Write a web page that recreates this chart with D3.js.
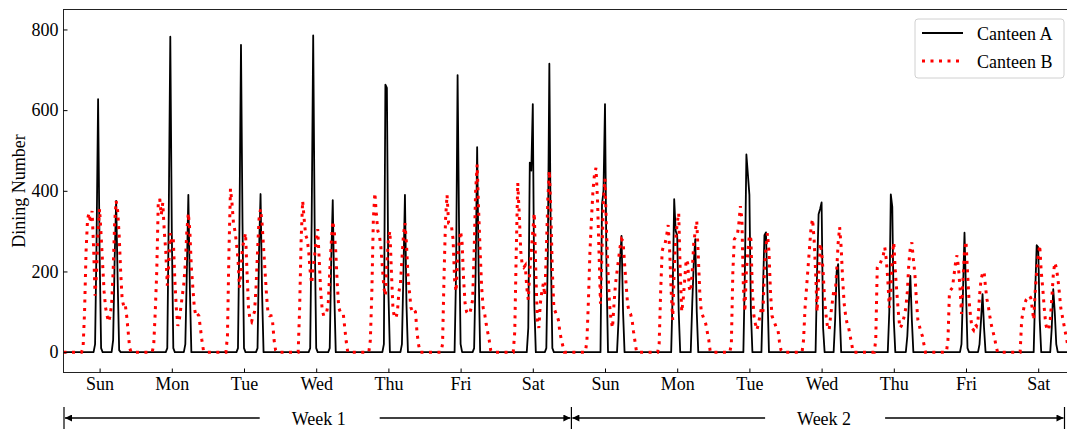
<!DOCTYPE html>
<html>
<head>
<meta charset="utf-8">
<script src="https://cdn.jsdelivr.net/npm/d3@7"></script>
<style>
  body { margin: 0; background: #fff; }
  text { font-family: "Liberation Serif", "Times New Roman", serif; }
</style>
</head>
<body>
<div id="chart"></div>
<script>
// day labels, one per tick
const days = ["Sun", "Mon", "Tue", "Wed", "Thu", "Fri", "Sat",
              "Sun", "Mon", "Tue", "Wed", "Thu", "Fri", "Sat"];
const weeks = ["Week 1", "Week 2"];
const yTicks = [0, 200, 400, 600, 800];

// every daily row holds half-hourly counts from 5:30 to 23:00 (36 values), zero outside
const slotStart = 5.5, slotStep = 0.5;

const canteenA = [
  [0,0,0,0,0,0,0,0,0,0, 20,280,627,250,10, 0,0,0,0,0,0,0, 30,230,375,180,5, 0,0,0,0,0,0,0,0,0],
  [0,0,0,0,0,0,0,0,0,0, 10,350,782,300,10, 0,0,0,0,0,0,0, 20,200,390,160,0, 0,0,0,0,0,0,0,0,0],
  [0,0,0,0,0,0,0,0,0,10, 320,762,320,10,0, 0,0,0,0,0,0,0, 10,250,392,150,0, 0,0,0,0,0,0,0,0,0],
  [0,0,0,0,0,0,0,0,0,10, 330,785,300,10,0, 0,0,0,0,0,0,0, 10,230,377,150,0, 0,0,0,0,0,0,0,0,0],
  [0,0,0,0,0,0,0,0,0,0, 20,663,655,150,0, 0,0,0,0,0,0,0, 20,200,390,120,0, 0,0,0,0,0,0,0,0,0],
  [0,0,0,0,0,0,0,0,0,0, 200,687,300,20,0, 0,0,0,0,0,0,0, 10,200,508,200,0, 0,0,0,0,0,0,0,0,0],
  [0,0,0,0,0,0,0,0,0,0, 60,470,450,615,120, 0,0,0,0,0,0,0, 10,250,715,250,10, 0,0,0,0,0,0,0,0,0],
  [0,0,0,0,0,0,0,0,0,0, 0,366,400,615,200, 0,0,0,0,0,0,0, 80,230,288,100,0, 0,0,0,0,0,0,0,0,0],
  [0,0,0,0,0,0,0,0,0,0, 150,379,300,290,100, 0,0,0,0,0,0,0, 0,120,220,280,100, 0,0,0,0,0,0,0,0,0],
  [0,0,0,0,0,0,0,0,0,0, 200,490,440,390,100, 0,0,0,0,0,0,0, 150,290,297,150,0, 0,0,0,0,0,0,0,0,0],
  [0,0,0,0,0,0,0,0,0,0, 200,342,355,371,60, 0,0,0,0,0,0,0, 80,200,218,100,0, 0,0,0,0,0,0,0,0,0],
  [0,0,0,0,0,0,0,0,0,0, 100,391,360,80,0, 0,0,0,0,0,0,0, 40,120,189,80,0, 0,0,0,0,0,0,0,0,0],
  [0,0,0,0,0,0,0,0,0,0, 20,150,296,150,10, 0,0,0,0,0,0,0, 20,80,144,60,0, 0,0,0,0,0,0,0,0,0],
  [0,0,0,0,0,0,0,0,0,0, 0,150,265,260,80, 0,0,0,0,0,0,0, 60,156,100,20,0, 0,0,0,0,0,0,0,0,0]
];

const canteenB = [
  [0, 0,10,100,250,330,345,320,350,260,140, 200,300,355,290,220,150,110,90,75,90, 120,200,320,375,350,290,200,130,115,120, 90,50,10,0,0],
  [0, 20,100,200,370,380,340,370,300,250,165, 220,295,270,280,180,110,65,80,110,140, 170,220,300,345,300,210,160,110,90,95, 90,60,30,5,0],
  [0, 0,40,250,405,370,320,300,270,230,160, 200,260,275,295,200,110,80,75,90,100, 160,250,330,355,320,260,200,140,95,90, 90,75,30,5,0],
  [0, 0,110,280,375,330,290,280,250,200,170, 210,240,280,305,230,150,105,90,95,100, 120,200,270,325,300,250,170,110,100,100, 95,60,25,0,0],
  [0, 30,150,330,395,340,300,290,260,210,160, 140,220,280,300,200,110,85,85,100,150, 170,230,290,320,270,190,150,110,100,105, 100,50,20,0,0],
  [0, 20,190,330,390,320,320,310,280,180,150, 230,270,300,270,180,120,100,95,95,110, 130,250,400,465,350,250,160,110,95,70, 50,30,5,0,0],
  [0, 50,250,420,340,250,215,210,215,160,130, 200,250,300,345,200,80,60,120,150,170, 140,250,380,450,350,200,110,100,90,80, 50,30,15,0,0],
  [0, 30,130,250,330,400,440,457,380,250,120, 250,380,430,300,200,120,80,60,120,170, 200,230,260,280,275,220,170,120,100,95, 80,50,25,0,0],
  [0, 20,150,250,265,270,290,315,250,150,80, 200,280,320,345,200,100,130,180,230,220, 160,150,200,270,300,325,240,150,100,90, 80,70,50,30,0],
  [0, 20,200,280,285,290,320,362,330,160,100, 200,250,290,280,150,90,70,55,70,90, 110,100,200,260,295,250,150,90,80,70, 60,55,25,5,0],
  [0, 30,110,160,210,260,310,330,280,200,100, 180,270,250,200,130,90,60,55,90,120, 150,140,200,270,310,260,180,120,90,70, 60,40,20,0,0],
  [0, 30,210,220,220,230,240,260,230,180,110, 150,240,272,200,150,100,60,65,75,90, 110,150,220,260,272,230,195,130,80,65, 50,40,20,0,0],
  [0, 30,150,155,160,190,220,240,210,160,95, 180,250,275,200,130,90,60,55,70,65, 80,140,180,195,200,160,130,110,85,65, 50,35,15,0,0],
  [0, 0,80,100,120,130,135,140,135,110,80, 150,200,240,265,200,160,110,70,55,55, 80,130,190,222,210,185,150,110,90,70, 50,30,10,0,0]
];

// turn the daily rows into one time series (hours since the first midnight)
function toSeries(rows) {
  var pts = [{t: 0, v: 0}];
  rows.forEach(function(row, d) {
    row.forEach(function(v, i) {
      pts.push({t: d * 24 + slotStart + i * slotStep, v: v});
    });
  });
  pts.push({t: rows.length * 24, v: 0});
  return pts;
}

var width = 1067, height = 429;
var plotLeft = 63.5, plotTop = 9.5, plotBottom = 372.5;

var svg = d3.select("#chart")
            .append("svg")
            .attr("width", width)
            .attr("height", height);

var x = d3.scaleLinear()
          .domain([0, days.length * 24])
          .range([plotLeft, plotLeft + days.length * 72.2]);

var y = d3.scaleLinear()
          .domain([-50.5, 849.5])
          .range([plotBottom, plotTop]);

// Lines
var line = d3.line()
             .x(function(d) { return x(d.t); })
             .y(function(d) { return y(d.v); });

svg.append("path")
   .datum(toSeries(canteenA))
   .attr("fill", "none")
   .attr("stroke", "#000")
   .attr("stroke-width", 1.8)
   .attr("stroke-linejoin", "round")
   .attr("d", line);

svg.append("path")
   .datum(toSeries(canteenB))
   .attr("fill", "none")
   .attr("stroke", "#ff0000")
   .attr("stroke-width", 3)
   .attr("stroke-dasharray", "3,5.5")
   .attr("d", line);

// Frame
svg.append("rect")
   .attr("x", plotLeft)
   .attr("y", plotTop)
   .attr("width", x.range()[1] - plotLeft)
   .attr("height", plotBottom - plotTop)
   .attr("fill", "none")
   .attr("stroke", "#222")
   .attr("stroke-width", 1);

// Y axis, ticks pointing in
var yAxis = svg.append("g")
   .attr("transform", "translate(" + plotLeft + ",0)")
   .call(d3.axisLeft(y).tickValues(yTicks).tickSizeInner(-4).tickSizeOuter(0).tickPadding(5));
yAxis.select(".domain").remove();
yAxis.selectAll("text").attr("font-size", 18).attr("font-family", "Liberation Serif, serif");

svg.append("text")
   .attr("transform", "translate(19," + ((plotTop + plotBottom) / 2) + ") rotate(-90)")
   .attr("text-anchor", "middle")
   .attr("dy", "0.35em")
   .attr("font-size", 18)
   .text("Dining Number");

// X axis: one tick per day at noon
var xAxis = svg.append("g")
   .attr("transform", "translate(0," + plotBottom + ")")
   .call(d3.axisBottom(x)
           .tickValues(days.map(function(d, i) { return i * 24 + 12; }))
           .tickFormat(function(d, i) { return days[i]; })
           .tickSizeInner(-4).tickSizeOuter(0).tickPadding(5));
xAxis.select(".domain").remove();
xAxis.selectAll("text").attr("font-size", 18).attr("font-family", "Liberation Serif, serif");

// Week brackets under the axis
var arrowY = 418, shift = 2.5;
var defs = svg.append("defs");
defs.append("marker")
    .attr("id", "head")
    .attr("viewBox", "0 0 10 10")
    .attr("refX", 10).attr("refY", 5)
    .attr("markerWidth", 8).attr("markerHeight", 7)
    .attr("markerUnits", "userSpaceOnUse")
    .attr("orient", "auto-start-reverse")
    .append("path")
    .attr("d", "M0,0 L10,5 L0,10 z")
    .attr("fill", "#000");

weeks.forEach(function(w, k) {
  var x0 = x(k * 168) + (k === 0 ? 0.5 : shift);
  var x1 = k === weeks.length - 1 ? 1064.5 : x((k + 1) * 168) + shift;
  var cx = x(k * 168 + 84) + shift;
  svg.append("line")
     .attr("x1", x0 + 1).attr("x2", cx - 59)
     .attr("y1", arrowY).attr("y2", arrowY)
     .attr("stroke", "#000").attr("stroke-width", 1.3)
     .attr("marker-start", "url(#head)");
  svg.append("line")
     .attr("x1", cx + 61).attr("x2", x1 - 1)
     .attr("y1", arrowY).attr("y2", arrowY)
     .attr("stroke", "#000").attr("stroke-width", 1.3)
     .attr("marker-end", "url(#head)");
  svg.append("text")
     .attr("x", cx).attr("y", 425)
     .attr("text-anchor", "middle")
     .attr("font-size", 18)
     .text(w);
});
[x(0) + 0.5, x(168) + shift, 1064.5].forEach(function(bx) {
  svg.append("line")
     .attr("x1", bx).attr("x2", bx)
     .attr("y1", 407).attr("y2", 429)
     .attr("stroke", "#000").attr("stroke-width", 1.2);
});

// Legend
var lg = svg.append("g");
lg.append("rect")
  .attr("x", 915).attr("y", 19)
  .attr("width", 149).attr("height", 59)
  .attr("rx", 3)
  .attr("fill", "#fff").attr("fill-opacity", 0.85)
  .attr("stroke", "#d0d0d0");
var legendItems = [
  {name: "Canteen A", color: "#000", width: 1.8, dash: null},
  {name: "Canteen B", color: "#ff0000", width: 3, dash: "3,5.5"}
];
legendItems.forEach(function(it, i) {
  var ly = 33 + i * 28;
  lg.append("line")
    .attr("x1", 922).attr("x2", 963)
    .attr("y1", ly).attr("y2", ly)
    .attr("stroke", it.color)
    .attr("stroke-width", it.width)
    .attr("stroke-dasharray", it.dash);
  lg.append("text")
    .attr("x", 977).attr("y", ly + 6.5)
    .attr("font-size", 18)
    .text(it.name);
});
</script>
</body>
</html>
